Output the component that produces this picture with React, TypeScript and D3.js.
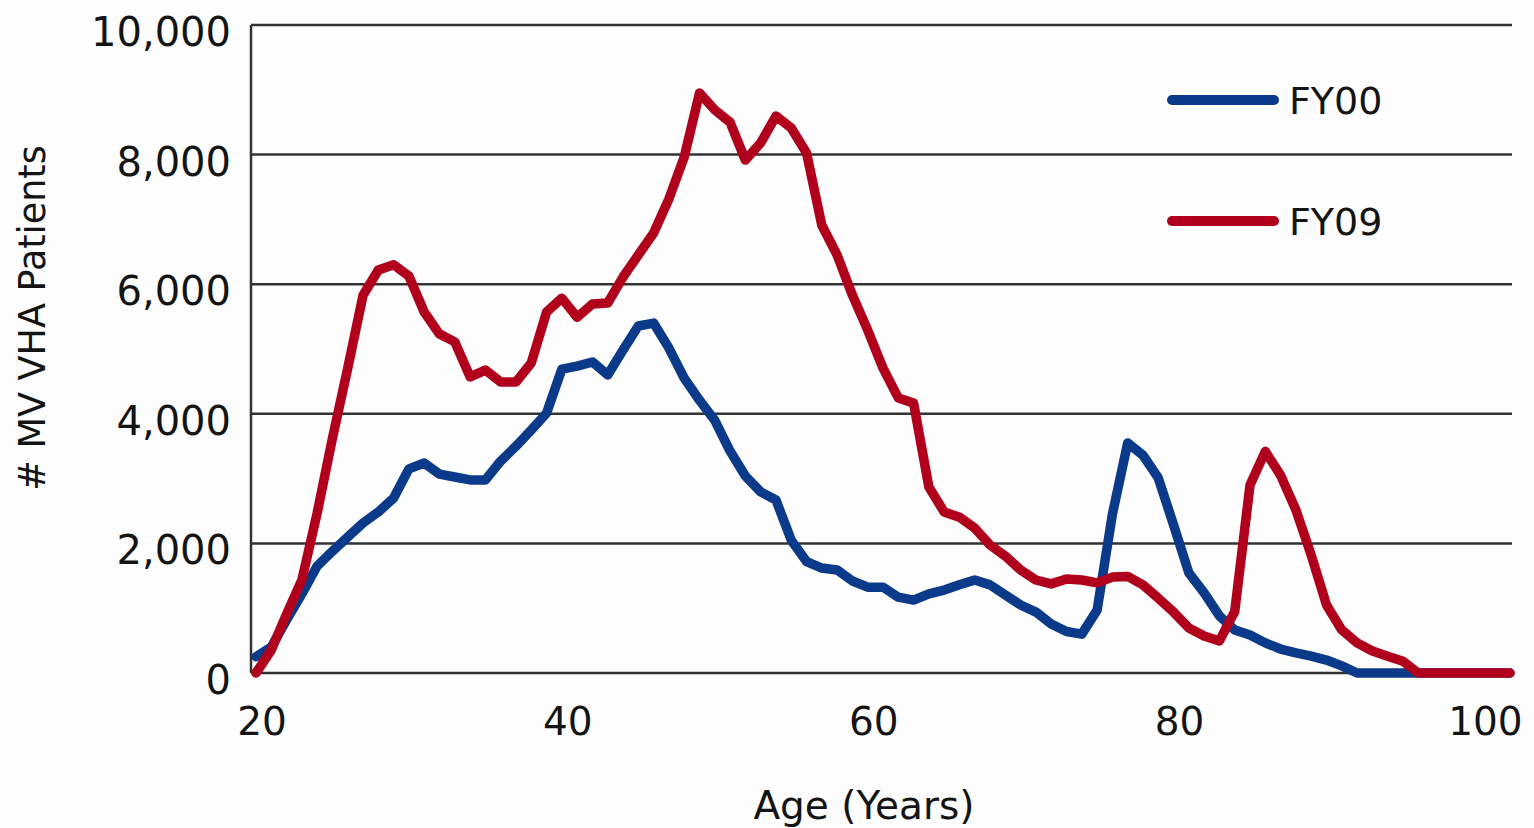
// App.tsx - MV VHA patients by age, FY00 vs FY09
import React, { useEffect, useRef } from 'react';
import * as d3 from 'd3';

const ages: number[] = d3.range(20, 103);

// FY00 patients per single year of age (20..102)
const fy00: number[] = [
  250, 400, 820, 1220, 1650, 1880, 2100, 2315, 2485, 2700,
  3150, 3240, 3070, 3025, 2980, 2980, 3270, 3500, 3750, 4010,
  4690, 4735, 4800, 4600, 4985, 5355, 5400, 5015, 4550, 4210,
  3900, 3425, 3040, 2795, 2670, 2050, 1720, 1620, 1590, 1420,
  1325, 1325, 1170, 1125, 1220, 1280, 1360, 1435, 1360, 1205,
  1050, 940, 755, 640, 600, 970, 2450, 3550, 3360, 3010,
  2285, 1545, 1235, 880, 665, 585, 465, 370, 310, 260,
  200, 110, 0, 0, 0, 0, 0, 0, 0, 0,
  0, 0, 0,
];

// FY09 patients per single year of age (20..102)
const fy09: number[] = [
  0, 355, 910, 1435, 2470, 3625, 4705, 5830, 6220, 6300,
  6125, 5570, 5230, 5110, 4570, 4675, 4490, 4490, 4785, 5570,
  5785, 5490, 5695, 5710, 6110, 6450, 6790, 7315, 7960, 8950,
  8690, 8500, 7915, 8180, 8595, 8410, 8025, 6910, 6450, 5830,
  5290, 4705, 4245, 4165, 2870, 2485, 2405, 2235, 1975, 1805,
  1590, 1435, 1375, 1450, 1435, 1390, 1480, 1490, 1360, 1155,
  940, 695, 570, 495, 950, 2900, 3420, 3050, 2515, 1820,
  1050, 665, 465, 340, 260, 180, 0, 0, 0, 0,
  0, 0, 0,
];

const yTicks: number[] = [0, 2000, 4000, 6000, 8000, 10000];
const xTicks: number[] = [20, 40, 60, 80, 100];

const series = [
  { name: 'FY00', values: fy00, color: '#0c3a8a' },
  { name: 'FY09', values: fy09, color: '#b1001c' },
];

const W = 1534;
const H = 828;
const FONT = '"DejaVu Sans", Verdana, sans-serif';
const INK = '#141414';

const App: React.FC = () => {
  const ref = useRef<SVGSVGElement>(null);

  useEffect(() => {
    const svg = d3.select(ref.current);
    svg.selectAll('*').remove();

    const left = 251;
    const right = 1512;
    const top = 25;
    const bottom = 673;

    const x = d3.scaleLinear().domain([20, 102]).range([256, 1510]);
    const y = d3.scaleLinear().domain([0, 10000]).range([bottom, top]);

    svg.append('rect').attr('width', W).attr('height', H).attr('fill', '#fdfdfd');

    // horizontal gridlines
    svg
      .append('g')
      .selectAll('line')
      .data(yTicks)
      .join('line')
      .attr('x1', left)
      .attr('x2', right)
      .attr('y1', (d) => y(d))
      .attr('y2', (d) => y(d))
      .attr('stroke', '#333')
      .attr('stroke-width', 2.5);

    // left axis line
    svg
      .append('line')
      .attr('x1', left)
      .attr('x2', left)
      .attr('y1', top)
      .attr('y2', bottom)
      .attr('stroke', '#333')
      .attr('stroke-width', 2.5);

    // y tick labels
    svg
      .append('g')
      .selectAll('text')
      .data(yTicks)
      .join('text')
      .attr('x', 231)
      .attr('y', (d) => y(d) + 21)
      .attr('text-anchor', 'end')
      .attr('font-family', FONT)
      .attr('font-size', 40)
      .attr('fill', INK)
      .text((d) => d3.format(',')(d));

    // x tick labels
    svg
      .append('g')
      .selectAll('text')
      .data(xTicks)
      .join('text')
      .attr('x', (d) => x(d) + 6)
      .attr('y', 735)
      .attr('text-anchor', 'middle')
      .attr('font-family', FONT)
      .attr('font-size', 39)
      .attr('fill', INK)
      .text((d) => String(d));

    // axis titles
    svg
      .append('text')
      .attr('transform', `translate(45, 318) rotate(-90)`)
      .attr('text-anchor', 'middle')
      .attr('font-family', FONT)
      .attr('font-size', 36.5)
      .attr('fill', INK)
      .text('# MV VHA Patients');

    svg
      .append('text')
      .attr('x', 864)
      .attr('y', 819)
      .attr('text-anchor', 'middle')
      .attr('font-family', FONT)
      .attr('font-size', 39)
      .attr('fill', INK)
      .text('Age (Years)');

    // series lines
    const line = d3
      .line<number>()
      .x((_, i) => x(ages[i]))
      .y((d) => y(d));

    svg
      .append('g')
      .selectAll('path')
      .data(series)
      .join('path')
      .attr('d', (s) => line(s.values))
      .attr('fill', 'none')
      .attr('stroke', (s) => s.color)
      .attr('stroke-width', 9.5)
      .attr('stroke-linejoin', 'round')
      .attr('stroke-linecap', 'round');

    // legend
    const legend = svg
      .append('g')
      .selectAll('g')
      .data(series)
      .join('g')
      .attr('transform', (_, i) => `translate(1172, ${100 + i * 121})`);

    legend
      .append('line')
      .attr('x1', 0)
      .attr('x2', 102)
      .attr('stroke', (s) => s.color)
      .attr('stroke-width', 10)
      .attr('stroke-linecap', 'round');

    legend
      .append('text')
      .attr('x', 117)
      .attr('y', 14)
      .attr('font-family', FONT)
      .attr('font-size', 38)
      .attr('fill', INK)
      .text((s) => s.name);
  }, []);

  return (
    <svg
      ref={ref}
      width={W}
      height={H}
      style={{ position: 'absolute', left: 0, top: 0 }}
    />
  );
};

export default App;
